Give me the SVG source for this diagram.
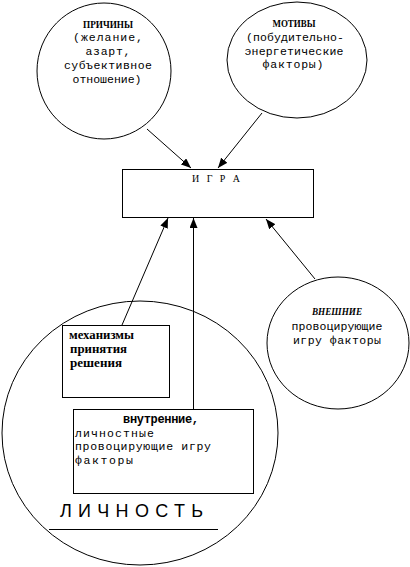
<svg xmlns="http://www.w3.org/2000/svg" width="410" height="567" viewBox="0 0 410 567">
  <style>
    .shape { fill: #ffffff; stroke: #000000; stroke-width: 1; }
    .conn { stroke: #000000; stroke-width: 1; fill: none; marker-end: url(#arrow); }
    .plain { stroke: #000000; stroke-width: 1; fill: none; }
    .mono { font-family: "Liberation Mono", "Courier New", monospace; font-size: 11.5px; fill: #000000; }
    .head { font-family: "Liberation Serif", "Times New Roman", serif; font-size: 10px; font-weight: bold; fill: #000000; }
    .headm { font-family: "Liberation Serif", "Times New Roman", serif; font-size: 12.5px; font-weight: bold; fill: #000000; }
    .monob { font-family: "Liberation Mono", "Courier New", monospace; font-size: 12px; font-weight: bold; fill: #000000; }
    .big { font-family: "Liberation Sans", Arial, sans-serif; font-size: 18px; fill: #000000; }
    .serif { font-family: "Liberation Serif", "Times New Roman", serif; font-size: 10px; fill: #000000; }
  </style>
  <defs>
    <marker id="arrow" markerUnits="userSpaceOnUse" markerWidth="10" markerHeight="8" refX="10" refY="4" orient="auto">
      <path d="M0,0 L10,4 L0,8 z" fill="#000000"/>
    </marker>
  </defs>
  <rect width="410" height="567" fill="#ffffff"/>

  <g id="lichnost">
    <ellipse class="shape" cx="140" cy="433" rx="138" ry="132"/>
    <text class="big" x="60" y="517" textLength="143" lengthAdjust="spacing">ЛИЧНОСТЬ</text>
    <line class="plain" x1="49" y1="529.5" x2="218" y2="529.5"/>
  </g>

  <g id="prichiny">
    <ellipse class="shape" cx="104" cy="71" rx="67" ry="68"/>
    <text class="head" x="108" y="28" text-anchor="middle" textLength="50" lengthAdjust="spacingAndGlyphs">ПРИЧИНЫ</text>
    <text class="mono" x="108" y="41" text-anchor="middle" textLength="70" lengthAdjust="spacing">(желание,</text>
    <text class="mono" x="108" y="55" text-anchor="middle" textLength="45" lengthAdjust="spacing">азарт,</text>
    <text class="mono" x="108" y="69" text-anchor="middle" textLength="88" lengthAdjust="spacing">субъективное</text>
    <text class="mono" x="107" y="83" text-anchor="middle" textLength="69" lengthAdjust="spacing">отношение)</text>
  </g>

  <g id="motivy">
    <ellipse class="shape" cx="297" cy="60" rx="70" ry="58"/>
    <text class="head" x="294" y="27" text-anchor="middle" textLength="43" lengthAdjust="spacingAndGlyphs">МОТИВЫ</text>
    <text class="mono" x="295" y="41" text-anchor="middle" textLength="98" lengthAdjust="spacing">(побудительно-</text>
    <text class="mono" x="294" y="55" text-anchor="middle" textLength="99" lengthAdjust="spacing">энергетические</text>
    <text class="mono" x="293" y="68" text-anchor="middle" textLength="61" lengthAdjust="spacing">факторы)</text>
  </g>

  <g id="igra">
    <rect class="shape" x="122.5" y="169.5" width="191" height="48"/>
    <text class="serif" x="216" y="182" text-anchor="middle" textLength="48" lengthAdjust="spacing">И Г Р А</text>
  </g>

  <g id="vneshnie">
    <ellipse class="shape" cx="338" cy="343" rx="71" ry="66"/>
    <text class="head" x="337" y="315" text-anchor="middle" font-style="italic" textLength="50" lengthAdjust="spacingAndGlyphs">ВНЕШНИЕ</text>
    <text class="mono" x="337" y="330" text-anchor="middle" textLength="91" lengthAdjust="spacing">провоцирующие</text>
    <text class="mono" x="337" y="344" text-anchor="middle" textLength="88" lengthAdjust="spacing">игру факторы</text>
  </g>

  <g id="mekhanizmy">
    <rect class="shape" x="62.5" y="325.5" width="107" height="72"/>
    <text class="headm" x="69" y="339" textLength="65" lengthAdjust="spacingAndGlyphs">механизмы</text>
    <text class="headm" x="70" y="353" textLength="57" lengthAdjust="spacingAndGlyphs">принятия</text>
    <text class="headm" x="70" y="367" textLength="52" lengthAdjust="spacingAndGlyphs">решения</text>
  </g>

  <g id="vnutrennie">
    <rect class="shape" x="73.5" y="409.5" width="180" height="84"/>
    <text class="monob" x="123" y="423" textLength="76" lengthAdjust="spacing">внутренние,</text>
    <text class="mono" x="75" y="437" textLength="79" lengthAdjust="spacing">личностные</text>
    <text class="mono" x="75" y="450" textLength="136" lengthAdjust="spacing">провоцирующие игру</text>
    <text class="mono" x="75" y="464" textLength="58" lengthAdjust="spacing">факторы</text>
  </g>

  <g id="connectors">
    <line class="conn" x1="147" y1="129" x2="191" y2="168"/>
    <line class="conn" x1="262" y1="113" x2="218" y2="168"/>
    <line class="conn" x1="122" y1="325" x2="168" y2="218"/>
    <line class="conn" x1="193.5" y1="409" x2="193.5" y2="218"/>
    <line class="conn" x1="315" y1="279" x2="266" y2="219"/>
  </g>
</svg>
